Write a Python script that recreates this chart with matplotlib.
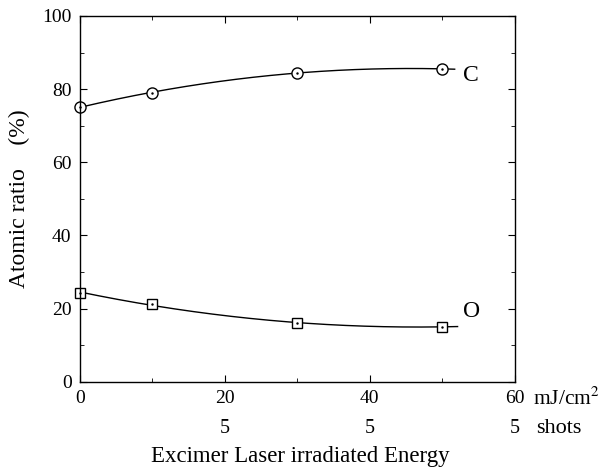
import numpy as np
import matplotlib
matplotlib.use("Agg")
import matplotlib.pyplot as plt
from matplotlib.ticker import MultipleLocator

plt.rcParams["font.family"] = ["Liberation Serif", "DejaVu Serif"]
plt.rcParams["mathtext.fontset"] = "stix"

# Data
energy = [0, 10, 30, 50]
carbon = [75.1, 79.0, 84.5, 85.5]
oxygen = [24.4, 21.2, 16.0, 15.1]
x_ticks = [0, 20, 40, 60]
shot_ticks = [20, 40, 60]
shot_labels = ["5", "5", "5"]

fig = plt.figure(figsize=(6.10, 4.68), dpi=100)
ax = fig.add_axes([0.131, 0.184, 0.713, 0.782])

# smooth trend curves (quadratic fit through the measured points)
for vals, marker, msize, xend in [(carbon, "o", 8, 51.7), (oxygen, "s", 6.5, 52.1)]:
    xs = np.linspace(0, xend, 200)
    coef = np.polyfit(energy, vals, 2)
    ax.plot(xs, np.polyval(coef, xs), color="black", lw=1.0)
    ax.plot(energy, vals, linestyle="none", marker=marker, ms=msize,
            mfc="white", mec="black", mew=1.0, clip_on=False)
    ax.plot(energy, vals, linestyle="none", marker=".", ms=1.5,
            color="black", clip_on=False)

ax.text(52.8, carbon[-1] - 1.9, "C", fontsize=17, va="center", ha="left")
ax.text(52.8, oxygen[-1] + 4.0, "O", fontsize=17, va="center", ha="left")

ax.set_xlim(0, 60)
ax.set_ylim(0, 100)
ax.set_xticks(x_ticks)
ax.xaxis.set_minor_locator(MultipleLocator(10))
ax.yaxis.set_major_locator(MultipleLocator(20))
ax.yaxis.set_minor_locator(MultipleLocator(10))
ax.tick_params(which="both", direction="in", top=True, right=True,
               labelsize=14, pad=6)
ax.tick_params(which="major", length=5)
ax.tick_params(which="minor", length=3)
for s in ax.spines.values():
    s.set_linewidth(1.0)

# second row of labels: number of shots
for x, lab in zip(shot_ticks, shot_labels):
    ax.text(x, -0.126, lab, transform=ax.get_xaxis_transform(),
            fontsize=14.5, ha="center", va="center")
ax.text(63.0, -0.126, "shots", transform=ax.get_xaxis_transform(),
        fontsize=16, ha="left", va="center")
ax.text(62.5, -0.015, "mJ/cm$^2$", transform=ax.get_xaxis_transform(),
        fontsize=15.5, ha="left", va="top")

ax.set_xlabel("Excimer Laser irradiated Energy", fontsize=16.5, va="center")
ax.xaxis.set_label_coords(0.506, -0.203)
ax.set_ylabel("Atomic ratio    (%)", fontsize=17, labelpad=9)

fig.savefig("out.png", dpi=100)
